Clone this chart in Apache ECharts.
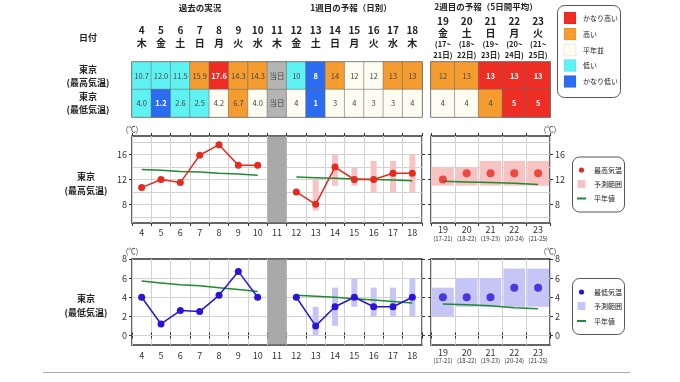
<!DOCTYPE html>
<html><head><meta charset="utf-8">
<script src="https://cdn.jsdelivr.net/npm/echarts@6/dist/echarts.min.js"></script>
<style>html,body{margin:0;padding:0;background:#fff}#c{width:680px;height:382px}</style>
</head><body><div id="c"></div>
<script>
// ---------- data ----------
const days1 = ['4','5','6','7','8','9','10','11','12','13','14','15','16','17','18'];
const weekdays1 = ['木','金','土','日','月','火','水','木','金','土','日','月','火','水','木'];
const days2 = ['19','20','21','22','23'];
const weekdays2 = ['金','土','日','月','火'];
const periodStart2 = ['17','18','19','20','21'];
const periodEnd2 = ['21','22','23','24','25'];
const todayDay = '11';
const todayLabel = '当日';

const pastMax = [10.7, 12.0, 11.5, 15.9, 17.6, 14.3, 14.3];
const week1Max = [10, 8, 14, 12, 12, 13, 13];
const week2Max = [12, 13, 13, 13, 13];
const pastMin = [4.0, 1.2, 2.6, 2.5, 4.2, 6.7, 4.0];
const week1Min = [4, 1, 3, 4, 3, 3, 4];
const week2Min = [4, 4, 4, 5, 5];

const week1MaxLow  = [null, 7, 11, 11, 10, 10, 10];
const week1MaxHigh = [null, 12, 16, 14, 15, 15, 16];
const week2MaxLow  = [11, 11, 11, 11, 11];
const week2MaxHigh = [14, 14, 15, 15, 15];
const week1MinLow  = [null, 0, 1, 3, 2, 2, 2];
const week1MinHigh = [null, 3, 5, 6, 5, 5, 6];
const week2MinLow  = [2, 3, 3, 3, 3];
const week2MinHigh = [5, 6, 6, 7, 7];

const normalMaxPast  = [13.6, 13.5, 13.3, 13.2, 13.0, 12.9, 12.7];
const normalMaxWeek1 = [12.4, 12.3, 12.2, 12.1, 12.0, 11.9, 11.8];
const normalMaxWeek2 = [11.7, 11.6, 11.5, 11.4, 11.2];
const normalMinPast  = [5.7, 5.5, 5.3, 5.2, 5.0, 4.8, 4.6];
const normalMinWeek1 = [4.2, 4.1, 4.0, 3.85, 3.7, 3.55, 3.4];
const normalMinWeek2 = [3.3, 3.2, 3.1, 2.9, 2.8];

// class: 2 かなり高い, 1 高い, 0 平年並, -1 低い, -2 かなり低い, null 当日
const maxClass1 = [-1,-1,-1,1,2,1,1,null,-1,-2,1,0,0,1,1];
const minClass1 = [-1,-2,-1,-1,0,1,0,null,0,-2,0,0,0,0,0];
const maxClass2 = [1,1,2,2,2];
const minClass2 = [0,0,1,2,2];
const classLevels = [2, 1, 0, -1, -2];
const classNames = ['かなり高い','高い','平年並','低い','かなり低い'];

const maxTicks = [8, 12, 16];
const maxGridLines = [6, 8, 10, 12, 14, 16, 18];
const minTicks = [0, 2, 4, 6, 8];
const minGridLines = [0, 2, 4, 6];

// ---------- styles ----------
const FONT = '"Noto Sans CJK JP", "Noto Sans", sans-serif';
const AX = '#333';
const GRIDLINE = '#d2d2d2';
const GREEN = '#1f8a2e';
const RED = '#e52a1f';
const BLUE = '#2a14d8';
const PINK = '#f7c3c3';
const LAVENDER = '#c6c6f6';
const TODAY_GRAY = '#a9a9a9';
const classColor = {'2':'#ee2e24','1':'#f59c30','0':'#fdfcf0','-1':'#5ff2f2','-2':'#2c6cf0'};

function cell(x, y, cls, text) {
  const today = cls === null;
  const strong = cls === 2 || cls === -2;
  return {
    value: [x, y, 0], text: text,
    itemStyle: {color: today ? '#b4b4b4' : classColor[String(cls)]},
    label: {color: strong ? '#fff' : '#444', fontWeight: strong ? 'bold' : 'normal'}
  };
}
const table1 = [];
days1.forEach((d, i) => {
  const maxTxt = i < 7 ? pastMax[i].toFixed(1) : (i === 7 ? todayLabel : String(week1Max[i - 8]));
  const minTxt = i < 7 ? pastMin[i].toFixed(1) : (i === 7 ? todayLabel : String(week1Min[i - 8]));
  table1.push(cell(i, 0, maxClass1[i], maxTxt));
  table1.push(cell(i, 1, minClass1[i], minTxt));
});
const table2 = [];
days2.forEach((d, i) => {
  table2.push(cell(i, 0, maxClass2[i], String(week2Max[i])));
  table2.push(cell(i, 1, minClass2[i], String(week2Min[i])));
});

function gridBox(left, top, width, height, bw) {
  return {left, top, width, height, show: true, borderColor: '#333', borderWidth: bw,
    backgroundColor: '#fff', containLabel: false, outerBoundsMode: 'none'};
}
function catAxis(gridIndex, data, pos, label) {
  return {type: 'category', gridIndex, data, position: pos, boundaryGap: true,
    axisLine: {show: false},
    axisTick: {show: true, interval: 0, length: 3, lineStyle: {color: AX}},
    axisLabel: label ? Object.assign({show: true, interval: 0, color: '#333', fontSize: 9, fontFamily: FONT}, label) : {show: false},
    splitLine: {show: pos === 'bottom', interval: 0, lineStyle: {color: GRIDLINE, width: 1}}};
}
function valAxis(gridIndex, pos, min, max, ticks, withLabel) {
  return {type: 'value', gridIndex, position: pos, min, max,
    axisLine: {show: false},
    axisTick: {show: true, length: 3, customValues: ticks, lineStyle: {color: AX}},
    axisLabel: withLabel ? {show: true, customValues: ticks, fontSize: 9, color: '#333', margin: 5, fontFamily: FONT} : {show: false},
    splitLine: {show: false},
    name: withLabel ? '(℃)' : '', nameLocation: 'end', nameGap: 3,
    nameTextStyle: {fontSize: 7.5, color: '#333', align: 'center', verticalAlign: 'bottom', fontFamily: FONT}};
}
function tableXAxis(gridIndex, data, fmt, rich, margin) {
  return {type: 'category', gridIndex, data, position: 'top',
    axisLine: {show: false}, axisTick: {show: false}, splitLine: {show: false},
    axisLabel: {show: true, interval: 0, margin, formatter: fmt, rich, fontFamily: FONT, color: '#222'}};
}
function tableYAxis(gridIndex, showLabel) {
  return {type: 'category', gridIndex, data: ['max', 'min'], inverse: true,
    axisLine: {show: false}, axisTick: {show: false}, splitLine: {show: false},
    axisLabel: showLabel ? {show: true, align: 'center', margin: 44, fontFamily: FONT,
      formatter: v => v === 'max' ? '{a|東京}\n{a|(最高気温)}' : '{a|東京}\n{a|(最低気温)}',
      rich: {a: {fontSize: 9, fontWeight: 'bold', lineHeight: 13, color: '#222', fontFamily: FONT}}} : {show: false}};
}
function rangeSeries(xi, yi, days, lows, highs, color, width) {
  const data = [];
  days.forEach((d, i) => { if (lows[i] !== null) data.push([d, lows[i], highs[i]]); });
  return {type: 'custom', xAxisIndex: xi, yAxisIndex: yi, data, z: 2, silent: true,
    encode: {x: 0, y: [1, 2]},
    renderItem: (params, api) => {
      const top = api.coord([api.value(0), api.value(2)]);
      const bot = api.coord([api.value(0), api.value(1)]);
      const w = width > 0 ? width : api.size([1, 0])[0] + width;
      return {type: 'rect', shape: {x: top[0] - w / 2, y: top[1], width: w, height: bot[1] - top[1]},
        style: {fill: color}};
    }};
}
function todayBand(xi, yi) {
  return {type: 'custom', xAxisIndex: xi, yAxisIndex: yi, data: [[todayDay]], z: 2, silent: true,
    encode: {x: 0},
    renderItem: (params, api) => {
      const cs = params.coordSys;
      const c = api.coord([api.value(0), 0]);
      const w = api.size([1, 0])[0];
      return {type: 'rect', shape: {x: c[0] - w / 2, y: cs.y + 0.75, width: w, height: cs.height - 1.5},
        style: {fill: TODAY_GRAY}};
    }};
}
function gridLines(values) {
  return {silent: true, symbol: ['none', 'none'], z: 1, animation: false,
    label: {show: false}, emphasis: {disabled: true},
    lineStyle: {color: GRIDLINE, width: 1, type: 'solid'},
    data: values.map(v => ({yAxis: v}))};
}
function normalLine(xi, yi, data, lines) {
  return {type: 'line', xAxisIndex: xi, yAxisIndex: yi, data, showSymbol: false, symbol: 'none',
    connectNulls: false, lineStyle: {width: 1.5, color: GREEN}, color: GREEN, z: 3, silent: true,
    markLine: gridLines(lines)};
}
function obsLine(xi, yi, data, color) {
  return {type: 'line', xAxisIndex: xi, yAxisIndex: yi, data, symbol: 'circle', symbolSize: 7,
    showSymbol: true, connectNulls: false, color, itemStyle: {color},
    lineStyle: {width: 1.5, color}, z: 4, silent: true};
}
function dots(xi, yi, data, color) {
  return {type: 'scatter', xAxisIndex: xi, yAxisIndex: yi, data, symbol: 'circle', symbolSize: 8,
    itemStyle: {color}, z: 4, silent: true};
}

const header1Rich = {
  d: {fontSize: 10, fontWeight: 'bold', lineHeight: 13, color: '#222', fontFamily: FONT},
  w: {fontSize: 10, fontWeight: 'bold', lineHeight: 13, color: '#222', fontFamily: FONT}
};
const header2Rich = {
  d: {fontSize: 10, fontWeight: 'bold', lineHeight: 12, color: '#222', fontFamily: FONT},
  w: {fontSize: 10, fontWeight: 'bold', lineHeight: 12, color: '#222', fontFamily: FONT},
  s: {fontSize: 7.5, fontWeight: 'bold', lineHeight: 10.5, color: '#222', fontFamily: FONT}
};
const week2AxisRich = {
  d: {fontSize: 9, lineHeight: 9, color: '#333', fontFamily: FONT},
  s: {fontSize: 6, lineHeight: 8, color: '#333', fontFamily: FONT}
};

// ---------- graphic (titles, row labels, legends) ----------
function txt(x, y, text, size, weight, align) {
  return {type: 'text', x, y, silent: true, style: {text, fill: '#222', fontSize: size, fontWeight: weight || 'normal',
    fontFamily: FONT, align: align || 'center', verticalAlign: 'middle', lineHeight: 14}};
}
const graphics = [
  txt(200, 8, '過去の実況', 8.5, 'bold'),
  txt(351, 8, '1週目の予報（日別）', 8.5, 'bold'),
  txt(486, 7, '2週目の予報（5日間平均）', 8.5, 'bold'),
  txt(88, 38, '日付', 9, 'bold'),
  txt(86, 184, '東京\n(最高気温)', 9, 'bold'),
  txt(86, 306, '東京\n(最低気温)', 9, 'bold'),
  {type: 'line', silent: true, shape: {x1: 43, y1: 372.5, x2: 630, y2: 372.5}, style: {stroke: '#aaa', lineWidth: 1}},
  {type: 'rect', silent: true, shape: {x: 557.5, y: 5.5, width: 63, height: 92, r: 7}, style: {fill: '#fff', stroke: '#555', lineWidth: 1}}
];
const legendRowsY = [18, 34, 50, 65.5, 81.5];
classLevels.forEach((lv, i) => {
  graphics.push({type: 'rect', silent: true, shape: {x: 564, y: legendRowsY[i] - 6, width: 12, height: 12},
    style: {fill: classColor[String(lv)], stroke: 'rgba(0,0,0,0.15)', lineWidth: 0.5}});
  graphics.push(txt(583, legendRowsY[i], classNames[i], 7, 'normal', 'left'));
});
function chartLegend(top, h, color, rangeColor, label, cy) {
  graphics.push({type: 'rect', silent: true, shape: {x: 572.5, y: top + 0.5, width: 52, height: h, r: 7},
    style: {fill: '#fff', stroke: '#555', lineWidth: 1}});
  graphics.push({type: 'circle', silent: true, shape: {cx: 581.5, cy: cy[0], r: 2.6}, style: {fill: color}});
  graphics.push({type: 'rect', silent: true, shape: {x: 577.5, y: cy[1] - 4, width: 8, height: 8}, style: {fill: rangeColor}});
  graphics.push({type: 'line', silent: true, shape: {x1: 577, y1: cy[2], x2: 586, y2: cy[2]}, style: {stroke: GREEN, lineWidth: 2}});
  graphics.push(txt(594, cy[0], label, 7, 'normal', 'left'));
  graphics.push(txt(594, cy[1], '予測範囲', 7, 'normal', 'left'));
  graphics.push(txt(594, cy[2], '平年値', 7, 'normal', 'left'));
}
chartLegend(156.5, 55, RED, PINK, '最高気温', [170, 184, 198.5]);
chartLegend(278, 56, BLUE, LAVENDER, '最低気温', [292, 306, 321]);

// ---------- option ----------
const option = {
  animation: false,
  backgroundColor: '#fff',
  textStyle: {fontFamily: FONT},
  grid: [
    gridBox(132, 62, 290, 55, 1.2),
    gridBox(431, 62, 119, 55, 1.2),
    gridBox(132, 136, 290, 87, 1.5),
    gridBox(431, 136, 119, 87, 1.5),
    gridBox(132, 259, 290, 86, 1.5),
    gridBox(431, 259, 119, 86, 1.5)
  ],
  xAxis: [
    tableXAxis(0, days1, (v, i) => `{d|${v}}\n{w|${weekdays1[i]}}`, header1Rich, 12),
    tableXAxis(1, days2, (v, i) => `{d|${v}}\n{w|${weekdays2[i]}}\n{s|(${periodStart2[i]}~}\n{s|${periodEnd2[i]}日)}`, header2Rich, 2),
    catAxis(2, days1, 'bottom', {margin: 5}),
    catAxis(2, days1, 'top', null),
    catAxis(3, days2, 'bottom', {margin: 2.5, formatter: (v, i) => `{d|${v}}\n{s|(${periodStart2[i]}-${periodEnd2[i]})}`, rich: week2AxisRich}),
    catAxis(3, days2, 'top', null),
    catAxis(4, days1, 'bottom', {margin: 6}),
    catAxis(4, days1, 'top', null),
    catAxis(5, days2, 'bottom', {margin: 3, formatter: (v, i) => `{d|${v}}\n{s|(${periodStart2[i]}-${periodEnd2[i]})}`, rich: week2AxisRich}),
    catAxis(5, days2, 'top', null)
  ],
  yAxis: [
    tableYAxis(0, true),
    tableYAxis(1, false),
    valAxis(2, 'left', 5, 19, maxTicks, true),
    valAxis(2, 'right', 5, 19, maxTicks, false),
    valAxis(3, 'left', 5, 19, maxTicks, false),
    valAxis(3, 'right', 5, 19, maxTicks, true),
    valAxis(4, 'left', -1, 8, minTicks, true),
    valAxis(4, 'right', -1, 8, minTicks, false),
    valAxis(5, 'left', -1, 8, minTicks, false),
    valAxis(5, 'right', -1, 8, minTicks, true)
  ],
  series: [
    {type: 'heatmap', xAxisIndex: 0, yAxisIndex: 0, data: table1, silent: true, emphasis: {disabled: true},
      itemStyle: {borderColor: '#666', borderWidth: 0.5},
      label: {show: true, fontSize: 7.5, fontFamily: FONT, formatter: p => p.data.text}},
    {type: 'heatmap', xAxisIndex: 1, yAxisIndex: 1, data: table2, silent: true, emphasis: {disabled: true},
      itemStyle: {borderColor: '#666', borderWidth: 0.5},
      label: {show: true, fontSize: 7.5, fontFamily: FONT, formatter: p => p.data.text}},

    // max temperature
    todayBand(2, 2),
    rangeSeries(2, 2, days1.slice(8), week1MaxLow, week1MaxHigh, PINK, 6),
    normalLine(2, 2, [...normalMaxPast, null, ...normalMaxWeek1], maxGridLines),
    obsLine(2, 2, [...pastMax, null, ...week1Max], RED),
    rangeSeries(4, 5, days2, week2MaxLow, week2MaxHigh, PINK, -2),
    normalLine(4, 5, normalMaxWeek2, maxGridLines),
    dots(4, 5, week2Max, RED),

    // min temperature
    todayBand(6, 6),
    rangeSeries(6, 6, days1.slice(8), week1MinLow, week1MinHigh, LAVENDER, 6),
    normalLine(6, 6, [...normalMinPast, null, ...normalMinWeek1], minGridLines),
    obsLine(6, 6, [...pastMin, null, ...week1Min], BLUE),
    rangeSeries(8, 9, days2, week2MinLow, week2MinHigh, LAVENDER, -2),
    normalLine(8, 9, normalMinWeek2, minGridLines),
    dots(8, 9, week2Min, BLUE)
  ],
  graphic: graphics
};
const chart = echarts.init(document.getElementById('c'), null, {renderer: 'canvas'});
chart.setOption(option);
</script>
</body></html>
